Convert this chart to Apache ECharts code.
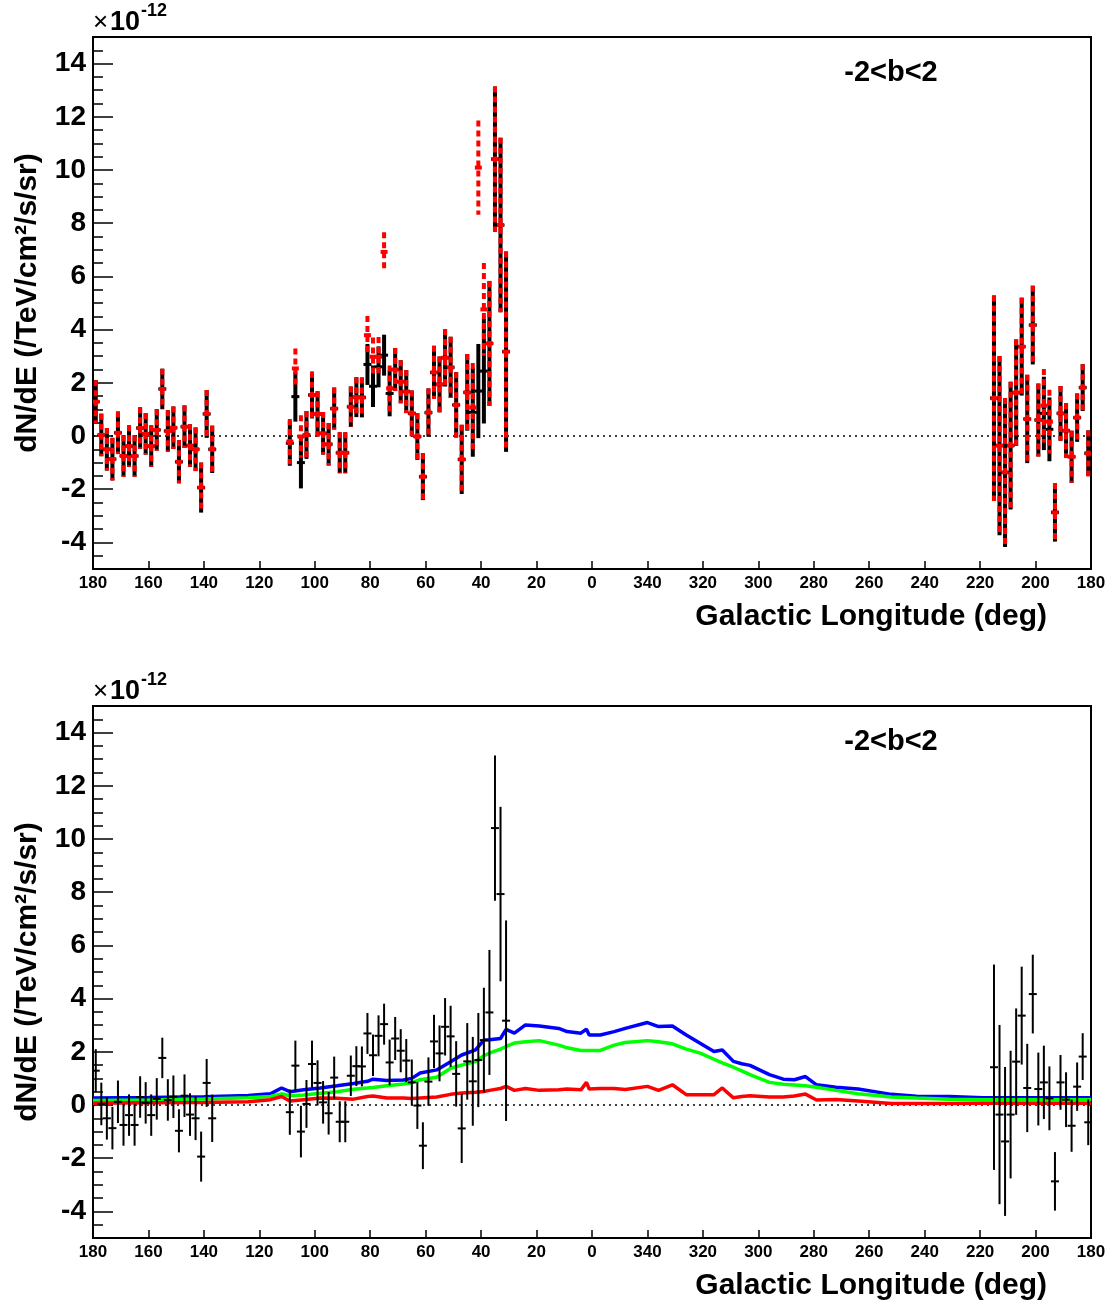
<!DOCTYPE html>
<html>
<head>
<meta charset="utf-8">
<script src="https://cdn.jsdelivr.net/npm/echarts@6/dist/echarts.min.js"></script>
<style>
html,body{margin:0;padding:0;background:#fff;}
#chart{width:1110px;height:1309px;}
</style>
</head>
<body>
<div id="chart"></div>
<script>
// ---------------- DATA ----------------
// Galactic longitude of each 2-degree bin centre
const binLon = [179,177,175,173,171,169,167,165,163,161,159,157,155,153,151,149,147,145,143,141,139,137,
  109,107,105,103,101,99,97,95,93,91,89,87,85,83,81,79,77,75,73,71,69,67,65,63,61,59,57,55,53,51,49,47,45,43,41,39,37,35,33,31,
  215,213,211,209,207,205,203,201,199,197,195,193,191,189,187,185,183,181];
// black data set (x1e-12)
const fluxBlack = [1.29,0.04,-0.5,-0.87,0.12,-0.75,-0.38,-0.75,0.3,0.08,-0.38,0.23,1.77,0.19,0.31,-0.97,0.35,-0.36,-0.5,-1.94,0.83,-0.5,
  -0.27,1.48,-1.0,0.04,1.54,0.83,0.1,-0.31,1.03,-0.63,-0.63,1.1,1.46,1.45,2.69,1.87,2.6,3.04,1.6,2.5,2.04,1.67,0.85,-0.02,-1.53,0.88,2.39,1.94,2.94,2.58,1.17,-0.88,1.64,0.89,1.69,2.44,3.48,10.41,7.93,3.17,
  1.42,-0.36,-1.37,-0.36,1.63,3.36,0.64,4.17,0.6,0.85,0.25,-2.87,0.85,0.2,-0.78,0.69,1.82,-0.65];
const errBlack = [0.81,0.8,0.8,0.8,0.8,0.78,0.78,0.78,0.78,0.78,0.78,0.78,0.76,0.78,0.8,0.81,0.8,0.8,0.82,0.94,0.9,0.89,
  0.85,0.94,0.97,0.9,0.88,0.85,0.8,0.8,0.79,0.77,0.77,0.76,0.75,0.75,0.77,0.78,0.77,0.77,0.86,0.81,0.81,0.81,0.86,0.88,0.88,0.91,1.0,1.05,1.08,1.15,1.23,1.3,1.44,1.67,1.77,1.97,2.35,2.73,3.28,3.77,
  3.86,3.37,2.8,2.4,2.0,1.84,1.66,1.48,1.37,1.38,1.2,1.1,1.03,1.03,0.98,0.91,0.88,0.86];
// red data set (x1e-12)
const fluxRed = [1.29,0.04,-0.5,-0.87,0.12,-0.75,-0.38,-0.75,0.3,0.08,-0.38,0.23,1.77,0.19,0.31,-0.97,0.35,-0.36,-0.5,-1.94,0.83,-0.5,
  -0.21,2.54,-0.02,0.04,1.54,0.83,0.1,-0.31,1.03,-0.63,-0.63,1.1,1.46,1.45,3.79,2.98,2.98,6.92,1.79,2.5,2.04,1.67,0.85,-0.02,-1.53,0.88,2.39,1.94,2.94,2.58,1.17,-0.88,1.64,1.07,10.09,4.76,3.48,10.41,7.93,3.17,
  1.42,-0.36,-1.37,-0.36,1.63,3.36,0.64,4.17,0.6,1.14,0.54,-2.87,0.85,0.2,-0.78,0.69,1.82,-0.65];
const errRed = [0.81,0.8,0.8,0.8,0.8,0.78,0.78,0.78,0.78,0.78,0.78,0.78,0.76,0.78,0.8,0.81,0.8,0.8,0.82,0.94,0.9,0.89,
  0.85,0.75,0.8,0.9,0.88,0.85,0.8,0.8,0.79,0.77,0.77,0.76,0.75,0.75,0.72,0.72,0.74,0.74,0.86,0.81,0.81,0.81,0.86,0.88,0.88,0.91,1.0,1.05,1.08,1.15,1.23,1.3,1.44,1.67,1.77,1.74,2.35,2.73,3.28,3.77,
  3.86,3.37,2.8,2.4,2.0,1.84,1.66,1.48,1.37,1.38,1.2,1.1,1.03,1.03,0.98,0.91,0.88,0.86];

// model curves, longitude in signed convention (180 ... 0 ... -180)
const modelLon = [180,160,140,124,116,112,109,104,98,92,86,81,79,74,68,65,62,56,51,47,42,39,37,33,31,28,24,19,12,9,4,2,1,-3,-8,-12,-20,-24,-29,-34,-39,-44,-47,-51,-54,-57,-64,-69,-73,-77,-81,-88,-96,-108,-117,-129,-141,-160,-180];
const modelBlue = [0.26,0.28,0.31,0.36,0.42,0.64,0.5,0.57,0.64,0.72,0.81,0.89,0.97,0.92,0.94,1.0,1.2,1.32,1.63,1.88,2.07,2.44,2.45,2.5,2.84,2.7,3.01,2.97,2.88,2.76,2.7,2.85,2.63,2.63,2.76,2.88,3.1,2.95,2.97,2.63,2.32,2.01,2.07,1.64,1.55,1.49,1.14,0.97,0.95,1.07,0.76,0.67,0.6,0.4,0.33,0.32,0.27,0.27,0.27];
const modelGreen = [0.17,0.19,0.23,0.27,0.32,0.42,0.35,0.38,0.44,0.5,0.59,0.64,0.66,0.72,0.79,0.84,0.95,1.04,1.38,1.5,1.63,1.85,1.95,2.1,2.2,2.33,2.38,2.42,2.25,2.15,2.05,2.05,2.05,2.05,2.25,2.35,2.42,2.38,2.3,2.1,1.95,1.72,1.58,1.42,1.28,1.14,0.85,0.78,0.75,0.72,0.67,0.55,0.42,0.3,0.26,0.22,0.2,0.2,0.2];
const modelRed = [0.07,0.08,0.09,0.12,0.2,0.32,0.15,0.2,0.26,0.25,0.22,0.32,0.34,0.26,0.26,0.24,0.26,0.3,0.4,0.45,0.48,0.51,0.55,0.62,0.7,0.55,0.62,0.55,0.57,0.6,0.57,0.85,0.6,0.62,0.62,0.58,0.7,0.55,0.76,0.39,0.39,0.39,0.64,0.27,0.32,0.35,0.3,0.3,0.34,0.41,0.19,0.21,0.15,0.06,0.06,0.06,0.07,0.07,0.07];

const xTicks = [180,160,140,120,100,80,60,40,20,0,340,320,300,280,260,240,220,200,180];
const yLabels = [-4,-2,0,2,4,6,8,10,12,14];

// ---------------- HELPERS ----------------
const FONT = '"Liberation Sans", Arial, Helvetica, sans-serif';
function axisPos(l){ return l <= 180 ? 180 - l : 540 - l; }   // bin longitude -> axis position
function signedPos(l){ return 180 - l; }                        // signed longitude -> axis position

function errData(vals, errs){
  return binLon.map((l,i)=>[axisPos(l), vals[i], errs[i]]);
}
function lineData(vals){
  return modelLon.map((l,i)=>[signedPos(l), vals[i]]);
}
function errRender(color, width, dash, mw, mh){
  return function(params, api){
    const u = api.value(0), v = api.value(1), e = api.value(2);
    const t = api.coord([u, v + e]), b = api.coord([u, v - e]), c = api.coord([u, v]);
    return {type:'group', children:[
      {type:'line', shape:{x1:t[0], y1:t[1], x2:b[0], y2:b[1]},
       style:{stroke:color, lineWidth:width, lineDash:dash}},
      {type:'rect', shape:{x:c[0]-mw/2, y:c[1]-mh/2, width:mw, height:mh}, style:{fill:color}}
    ]};
  };
}

const GRID_L = 93, GRID_W = 998, GRID_H = 532;
const TOPS = [37, 706];

function xAxisDef(gi){
  return {type:'value', gridIndex:gi, min:0, max:360, interval:20,
    axisLine:{show:true, onZero:false, lineStyle:{color:'#000', width:2}},
    axisTick:{show:true, inside:true, length:8, lineStyle:{color:'#000', width:1.5}},
    splitLine:{show:false},
    axisLabel:{show:true, margin:6, color:'#000', fontSize:17, fontWeight:'bold', fontFamily:FONT,
      formatter:function(v){ let l = 180 - v; if (l < 0) l += 360; return String(Math.round(l)); }}
  };
}
function yMinorDef(gi){
  return {type:'value', gridIndex:gi, position:'left', min:-5, max:15, interval:0.5,
    axisLine:{show:true, lineStyle:{color:'#000', width:2}},
    axisTick:{show:true, inside:true, length:10, lineStyle:{color:'#000', width:1.5}},
    axisLabel:{show:false}, splitLine:{show:false}};
}
function yMajorDef(gi){
  return {type:'value', gridIndex:gi, position:'left', offset:0, min:-5, max:15,
    axisLine:{show:false},
    axisTick:{show:true, inside:true, length:20, customValues:yLabels, lineStyle:{color:'#000', width:1.5}},
    axisLabel:{show:true, customValues:yLabels, margin:7, padding:[6,0,0,0], color:'#000', fontSize:28, fontWeight:'bold', fontFamily:FONT},
    splitLine:{show:false}};
}

function zeroLine(xi, yi){
  return {type:'line', xAxisIndex:xi, yAxisIndex:yi, data:[[0,0],[360,0]], symbol:'none', silent:true,
    lineStyle:{color:'#000', width:1.5, type:[2,4]}, z:1};
}

function panelTexts(off){
  return [
    {type:'text', x:93, y:23+off, style:{text:'×', font:'normal 26px '+FONT, fill:'#000', textAlign:'left', textVerticalAlign:'middle'}},
    {type:'text', x:110, y:23+off, style:{text:'10', font:'bold 27px '+FONT, fill:'#000', textAlign:'left', textVerticalAlign:'middle'}},
    {type:'text', x:141, y:11+off, style:{text:'-12', font:'bold 18px '+FONT, fill:'#000', textAlign:'left', textVerticalAlign:'middle'}},
    {type:'text', x:891, y:73+off, style:{text:'-2<b<2', font:'bold 29px '+FONT, fill:'#000', textAlign:'center', textVerticalAlign:'middle'}},
    {type:'text', x:1047, y:617+off, style:{text:'Galactic Longitude (deg)', font:'bold 30px '+FONT, fill:'#000', textAlign:'right', textVerticalAlign:'middle'}},
    {type:'text', x:28, y:303+off, rotation:Math.PI/2, style:{text:'dN/dE (/TeV/cm²/s/sr)', font:'bold 30px '+FONT, fill:'#000', textAlign:'center', textVerticalAlign:'middle'}}
  ];
}

// ---------------- CHART ----------------
const chart = echarts.init(document.getElementById('chart'), null, {renderer:'canvas'});
const option = {
  animation:false,
  backgroundColor:'#fff',
  grid:[
    {left:GRID_L, top:TOPS[0], width:GRID_W, height:GRID_H, show:true, borderColor:'#000', borderWidth:2, backgroundColor:'transparent'},
    {left:GRID_L, top:TOPS[1], width:GRID_W, height:GRID_H, show:true, borderColor:'#000', borderWidth:2, backgroundColor:'transparent'}
  ],
  xAxis:[xAxisDef(0), xAxisDef(1)],
  yAxis:[yMinorDef(0), yMajorDef(0), yMinorDef(1), yMajorDef(1)],
  graphic: panelTexts(0).concat(panelTexts(669)),
  series:[
    zeroLine(0,0),
    {type:'custom', name:'black', xAxisIndex:0, yAxisIndex:0, clip:true, z:3,
     renderItem: errRender('#000', 4, null, 8, 3), data: errData(fluxBlack, errBlack)},
    {type:'custom', name:'red', xAxisIndex:0, yAxisIndex:0, clip:true, z:4,
     renderItem: errRender('#ff0000', 4, [6,4], 7, 4), data: errData(fluxRed, errRed)},
    zeroLine(1,2),
    {type:'line', name:'blue model', xAxisIndex:1, yAxisIndex:2, data: lineData(modelBlue), symbol:'none', z:2,
     lineStyle:{color:'#0000ff', width:3.5}},
    {type:'line', name:'green model', xAxisIndex:1, yAxisIndex:2, data: lineData(modelGreen), symbol:'none', z:2,
     lineStyle:{color:'#00ff00', width:3.5}},
    {type:'line', name:'red model', xAxisIndex:1, yAxisIndex:2, data: lineData(modelRed), symbol:'none', z:2,
     lineStyle:{color:'#ff0000', width:3.5}},
    {type:'custom', name:'data', xAxisIndex:1, yAxisIndex:2, clip:true, z:5,
     renderItem: errRender('#000', 2, null, 8, 2), data: errData(fluxBlack, errBlack)}
  ]
};
chart.setOption(option);
</script>
</body>
</html>
